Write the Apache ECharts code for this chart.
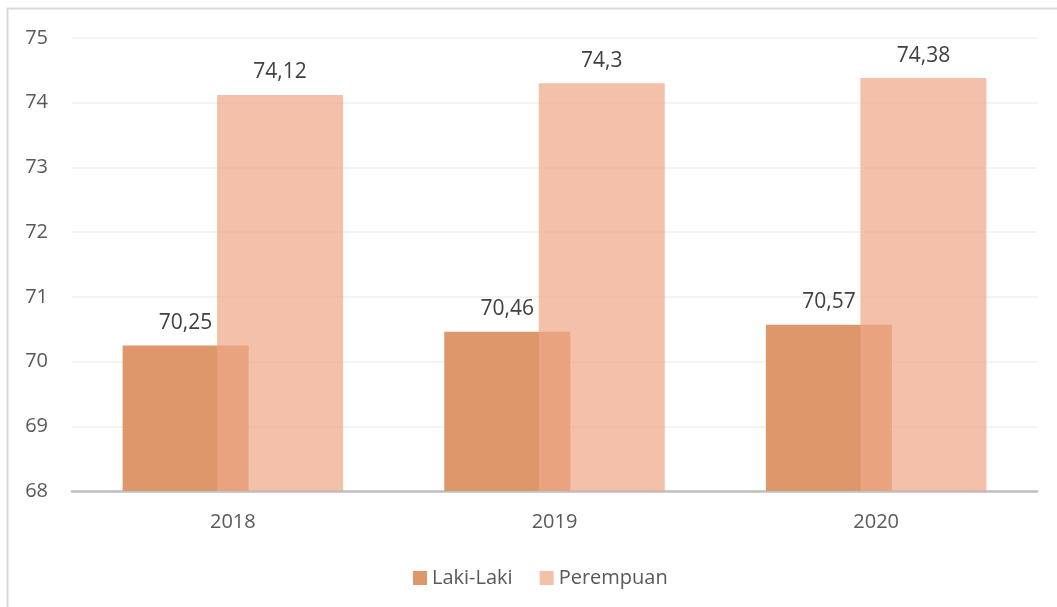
<!DOCTYPE html>
<html><head><meta charset="utf-8">
<script src="https://cdn.jsdelivr.net/npm/echarts@6/dist/echarts.min.js"></script>
<style>html,body{margin:0;padding:0;background:#fff}#c{width:1057px;height:607px}</style>
</head><body><div id="c"></div>
<script>
const categories = ['2018', '2019', '2020'];
const lakiLaki = [70.25, 70.46, 70.57];
const perempuan = [74.12, 74.3, 74.38];
const seriesNames = ['Laki-Laki', 'Perempuan'];

const fmt = p => String(p.value).replace('.', ',');
const chart = echarts.init(document.getElementById('c'));
chart.setOption({
  animation: false,
  textStyle: { fontFamily: 'Open Sans' },
  graphic: [{ type: 'rect', shape: { x: 7.5, y: 8.5, width: 1060, height: 620 }, style: { fill: 'none', stroke: '#d9d9d9', lineWidth: 2 }, silent: true }],
  grid: { left: 72, right: 20, top: 38, bottom: 116 },
  legend: {
    bottom: 14, left: 408, itemWidth: 14, itemHeight: 14, itemGap: 27,
    icon: 'rect',
    textStyle: { fontSize: 20, color: '#595959', fontFamily: 'Open Sans' },
    data: seriesNames
  },
  xAxis: {
    type: 'category', data: categories,
    axisLine: { lineStyle: { color: '#bfbfbf', width: 2.5 } },
    axisTick: { show: false },
    axisLabel: { fontSize: 20, color: '#595959', margin: 21 }
  },
  yAxis: {
    type: 'value', min: 68, max: 75, interval: 1,
    axisLine: { show: false }, axisTick: { show: false },
    axisLabel: { fontSize: 20, color: '#595959', margin: 24 },
    splitLine: { lineStyle: { color: '#efefef', width: 1.5 } }
  },
  series: [
    { name: seriesNames[0], type: 'bar', data: lakiLaki, barWidth: 126, barGap: '-25%',
      itemStyle: { color: '#dd976a' },
      label: { show: true, position: 'top', distance: 12, fontSize: 21, color: '#404040', formatter: fmt } },
    { name: seriesNames[1], type: 'bar', data: perempuan, barWidth: 126,
      itemStyle: { color: 'rgba(238,168,136,0.72)' },
      label: { show: true, position: 'top', distance: 12, fontSize: 21, color: '#404040', formatter: fmt } }
  ]
});
</script></body></html>
